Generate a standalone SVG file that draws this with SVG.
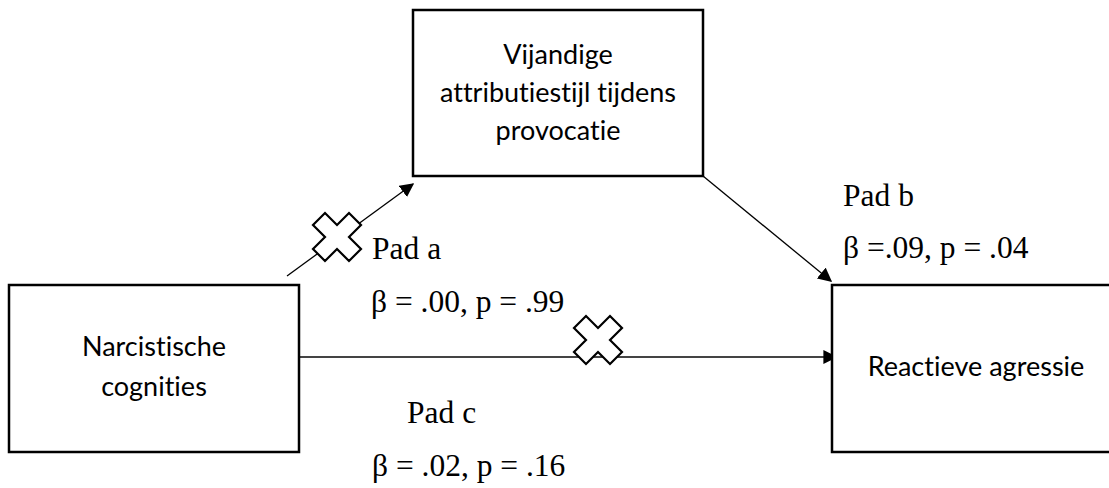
<svg xmlns="http://www.w3.org/2000/svg" width="1109" height="488" viewBox="0 0 1109 488">
<style>
.box{fill:#fff;stroke:#000;stroke-width:2.5}
.sans{font-family:Lato,"Open Sans","Liberation Sans",sans-serif;font-size:27px;fill:#000;text-anchor:middle;font-variant-ligatures:none;font-feature-settings:"liga" 0,"clig" 0,"dlig" 0;letter-spacing:0.01px}
.serif{font-family:"Liberation Serif","Times New Roman",serif;font-size:31.5px;fill:#000}
.conn{stroke:#000;stroke-width:1.3;fill:none}
.x{fill:#fff;stroke:#000;stroke-width:2.2;stroke-linejoin:miter}
</style>
<defs>
<marker id="ah" viewBox="0 0 10 10" refX="9" refY="5" markerWidth="14" markerHeight="14" markerUnits="userSpaceOnUse" orient="auto">
<path d="M0,0 L10,5 L0,10 Z" fill="#000"/>
</marker>
<polygon id="cross" points="0,-12 12,-24 24,-12 12,0 24,12 12,24 0,12 -12,24 -24,12 -12,0 -24,-12 -12,-24"/>
</defs>
<rect width="1109" height="488" fill="#fff"/>
<g id="connectors">
<line class="conn" x1="287" y1="276" x2="413" y2="184" marker-end="url(#ah)"/>
<line class="conn" x1="703" y1="176" x2="831" y2="281" marker-end="url(#ah)"/>
<line x1="297" y1="357" x2="836" y2="357" stroke="#444" stroke-width="2" marker-end="url(#ah)"/>
<use href="#cross" class="x" x="337" y="237"/>
<use href="#cross" class="x" x="598" y="340"/>
</g>
<g id="node-narcistische">
<rect class="box" x="9" y="285" width="290" height="167"/>
<text class="sans" x="154" y="356">Narcistische</text>
<text class="sans" x="154" y="396">cognities</text>
</g>
<g id="node-vijandige">
<rect class="box" x="413" y="10" width="290" height="166"/>
<text class="sans" x="558" y="64">Vijandige</text>
<text class="sans" x="558" y="102">attributiestijl tijdens</text>
<text class="sans" x="558" y="140">provocatie</text>
</g>
<g id="node-reactieve">
<rect class="box" x="832" y="285" width="290" height="167"/>
<text class="sans" x="976" y="376">Reactieve agressie</text>
</g>
<g id="labels">
<text class="serif" x="372" y="259">Pad a</text>
<text class="serif" x="371" y="312">β = .00, p = .99</text>
<text class="serif" x="843" y="206">Pad b</text>
<text class="serif" x="843" y="258">β =.09, p = .04</text>
<text class="serif" x="407" y="423">Pad c</text>
<text class="serif" x="372" y="476">β = .02, p = .16</text>
</g>
</svg>
